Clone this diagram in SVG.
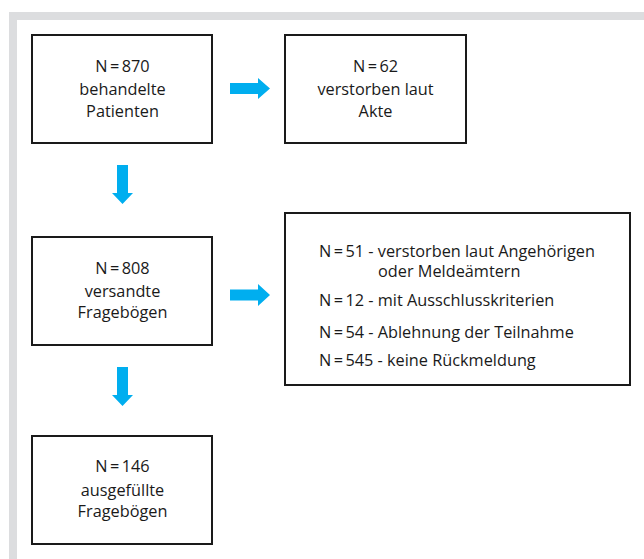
<svg xmlns="http://www.w3.org/2000/svg" width="644" height="559" viewBox="0 0 644 559">
<style>
.box{fill:#fff;stroke:#1a1a1a;stroke-width:2}
.t{font-family:"Open Sans","Noto Sans",sans-serif;font-size:16.3px;fill:#1a1a1a}
.c{text-anchor:middle}
.n{word-spacing:-1.8px}
.arr{fill:#00aeef}
</style>
<rect x="0" y="0" width="644" height="559" fill="#fff"/>
<path d="M9 12 H644 V20 H17 V559 H9 Z" fill="#dcdddf"/>
<g id="connectors">
<path class="arr" d="M230 83 H258 V78 L270 88.5 L258 99 V94 H230 Z"/>
<path class="arr" d="M230 289.5 H258 V284 L270 295 L258 306 V300.5 H230 Z"/>
<path class="arr" d="M117 165 H128 V193 H133 L122.5 204 L112 193 H117 Z"/>
<path class="arr" d="M117 367 H128 V395 H133 L122.5 406 L112 395 H117 Z"/>
</g>
<g id="n870">
<rect class="box" x="32" y="35" width="180" height="108"/>
<text class="t c" x="122.5" y="72"><tspan class="n">N = 870</tspan></text>
<text class="t c" x="122.5" y="95">behandelte</text>
<text class="t c" x="122.5" y="117">Patienten</text>
</g>
<g id="n62">
<rect class="box" x="285" y="35" width="181" height="108"/>
<text class="t c" x="375.5" y="72"><tspan class="n">N = 62</tspan></text>
<text class="t c" x="375.5" y="95">verstorben laut</text>
<text class="t c" x="375.5" y="117">Akte</text>
</g>
<g id="n808">
<rect class="box" x="32" y="237" width="180" height="108"/>
<text class="t c" x="122.5" y="274"><tspan class="n">N = 808</tspan></text>
<text class="t c" x="122.5" y="297">versandte</text>
<text class="t c" x="122.5" y="318">Fragebögen</text>
</g>
<g id="excluded">
<rect class="box" x="285" y="213" width="345" height="172"/>
<text class="t" x="319" y="257"><tspan class="n">N = 51</tspan> - verstorben laut Angehörigen</text>
<text class="t" x="378" y="277">oder Meldeämtern</text>
<text class="t" x="319" y="305.5"><tspan class="n">N = 12</tspan> - mit Ausschlusskriterien</text>
<text class="t" x="319" y="337.5"><tspan class="n">N = 54</tspan> - Ablehnung der Teilnahme</text>
<text class="t" x="319" y="365.5"><tspan class="n">N = 545</tspan> - keine Rückmeldung</text>
</g>
<g id="n146">
<rect class="box" x="32" y="436" width="180" height="108"/>
<text class="t c" x="122.5" y="472"><tspan class="n">N = 146</tspan></text>
<text class="t c" x="122.5" y="496">ausgefüllte</text>
<text class="t c" x="122.5" y="517">Fragebögen</text>
</g>
</svg>
